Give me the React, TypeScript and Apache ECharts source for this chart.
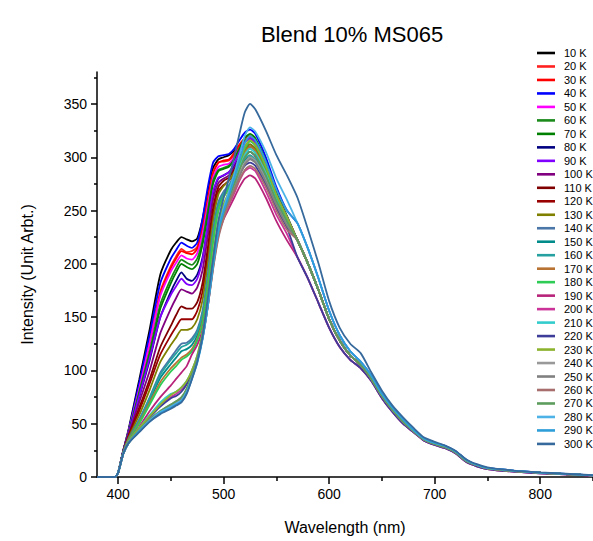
import React, { useEffect, useRef } from "react";
import * as echarts from "echarts";

// Wavelength grid (nm)
const headWavelengths = [380, 397, 400, 405, 410, 420, 430, 440, 450, 455, 460, 465, 470, 475, 480, 485, 490, 495, 500, 505, 510, 515, 520, 525, 530, 540, 550, 560];
const tailWavelengths = [570, 580, 590, 600, 610, 620, 630, 640, 650, 660, 670, 680, 690, 700, 710, 720, 730, 740, 750, 775, 800, 850];

const temperatures = ["10 K", "20 K", "30 K", "40 K", "50 K", "60 K", "70 K", "80 K", "90 K", "100 K", "110 K", "120 K", "130 K", "140 K", "150 K", "160 K", "170 K", "180 K", "190 K", "200 K", "210 K", "220 K", "230 K", "240 K", "250 K", "260 K", "270 K", "280 K", "290 K", "300 K"];

const lineColors = ["#000000", "#FF2020", "#FF0000", "#0000FF", "#FF00FF", "#1A8A1A", "#008000", "#000080", "#8000FF", "#800080", "#800000", "#990000", "#808000", "#4A76A8", "#008B8B", "#26A0A0", "#B87333", "#2ECC55", "#B8237A", "#CC3399", "#33CCCC", "#3D3D99", "#8CB32E", "#999999", "#808080", "#A86E6E", "#5C9C5C", "#4DB3E6", "#2E9ED9", "#36699C"];

// Intensity (a.u.) on headWavelengths
const h10 = [0, 0, 4, 25, 45, 91, 139, 190, 213, 220, 225, 223, 221, 224, 242, 268, 290, 298, 300, 302, 306, 311, 315, 317, 314, 292, 265, 244];
const h20 = [0, 0, 4, 25, 43, 84, 128, 174, 198, 207, 214, 211, 212, 216, 236, 262, 286, 295, 296, 297, 302, 310, 316, 318, 314, 292, 264, 243];
const h30 = [0, 0, 4, 25, 43, 83, 125, 172, 196, 205, 212, 210, 209, 214, 234, 260, 285, 295, 297, 298, 304, 312, 318, 320, 316, 294, 266, 244];
const h40 = [0, 0, 4, 25, 44, 88, 134, 182, 205, 213, 220, 217, 215, 220, 242, 272, 295, 301, 302, 303, 308, 316, 323, 326, 322, 300, 272, 250];
const h50 = [0, 0, 4, 25, 43, 83, 126, 170, 193, 201, 208, 205, 204, 210, 228, 255, 281, 291, 293, 294, 300, 308, 314, 317, 313, 291, 264, 243];
const h60 = [0, 0, 4, 25, 42, 80, 118, 162, 186, 196, 204, 201, 199, 205, 222, 250, 278, 288, 290, 292, 298, 308, 315, 318, 314, 292, 264, 243];
const h70 = [0, 0, 4, 25, 42, 78, 115, 158, 182, 192, 200, 197, 195, 200, 218, 246, 275, 287, 289, 291, 298, 308, 318, 322, 318, 296, 267, 245];
const h80 = [0, 0, 4, 25, 41, 75, 110, 150, 174, 184, 192, 186, 184, 190, 206, 236, 266, 280, 283, 286, 292, 300, 307, 310, 306, 285, 260, 240];
const h90 = [0, 0, 4, 25, 41, 76, 112, 150, 171, 179, 186, 181, 180, 186, 204, 236, 268, 281, 283, 286, 294, 305, 314, 318, 314, 292, 265, 244];
const h100 = [0, 0, 4, 24, 40, 70, 100, 135, 158, 168, 176, 174, 172, 178, 194, 226, 260, 276, 280, 283, 290, 300, 308, 312, 308, 288, 262, 242];
const h110 = [0, 0, 4, 24, 39, 65, 92, 122, 142, 152, 160, 158, 158, 164, 182, 215, 252, 272, 278, 281, 288, 296, 302, 305, 301, 282, 258, 238];
const h120 = [0, 0, 4, 24, 38, 62, 88, 115, 133, 141, 148, 148, 148, 156, 174, 208, 246, 268, 274, 278, 284, 292, 297, 300, 296, 278, 255, 236];
const h130 = [0, 0, 4, 24, 37, 58, 82, 108, 124, 131, 138, 138, 140, 148, 166, 200, 240, 265, 273, 278, 286, 296, 306, 312, 308, 288, 262, 242];
const h140 = [0, 0, 4, 24, 36, 54, 75, 98, 112, 119, 125, 126, 130, 138, 156, 190, 232, 258, 268, 274, 283, 294, 302, 305, 301, 282, 258, 238];
const h150 = [0, 0, 4, 23, 35, 52, 72, 93, 106, 112, 118, 120, 124, 133, 150, 184, 226, 254, 265, 272, 280, 290, 297, 300, 296, 278, 255, 236];
const h160 = [0, 0, 4, 23, 35, 53, 74, 96, 110, 116, 122, 124, 128, 136, 153, 187, 228, 255, 266, 272, 281, 291, 299, 302, 298, 280, 256, 237];
const h170 = [0, 0, 4, 23, 35, 51, 70, 89, 102, 107, 112, 115, 120, 130, 146, 180, 222, 250, 263, 270, 279, 292, 304, 310, 306, 286, 260, 240];
const h180 = [0, 0, 4, 23, 34, 50, 68, 86, 99, 104, 110, 113, 118, 128, 144, 178, 220, 250, 263, 271, 281, 294, 308, 315, 311, 290, 263, 242];
const h190 = [0, 0, 4, 22, 33, 47, 62, 75, 86, 92, 98, 104, 115, 124, 138, 165, 200, 228, 242, 252, 262, 272, 280, 283, 280, 262, 240, 222];
const h200 = [0, 0, 4, 22, 33, 46, 58, 68, 75, 78, 82, 88, 100, 112, 130, 160, 198, 228, 244, 255, 266, 278, 287, 290, 287, 268, 246, 228];
const h210 = [0, 0, 4, 22, 33, 46, 58, 70, 78, 80, 84, 90, 100, 114, 134, 165, 204, 236, 252, 264, 276, 290, 302, 308, 304, 285, 260, 240];
const h220 = [0, 0, 4, 22, 32, 45, 56, 66, 74, 76, 80, 87, 98, 112, 132, 162, 200, 232, 250, 262, 273, 284, 292, 295, 292, 274, 252, 234];
const h230 = [0, 0, 4, 22, 33, 46, 57, 68, 77, 80, 84, 90, 100, 114, 136, 168, 208, 240, 256, 268, 281, 296, 310, 316, 312, 292, 265, 244];
const h240 = [0, 0, 4, 22, 32, 44, 54, 62, 68, 71, 74, 82, 95, 110, 132, 162, 198, 228, 246, 260, 272, 284, 295, 300, 297, 279, 256, 237];
const h250 = [0, 0, 4, 22, 32, 43, 53, 61, 67, 70, 73, 81, 94, 109, 130, 160, 196, 226, 244, 258, 270, 282, 293, 298, 295, 277, 255, 236];
const h260 = [0, 0, 4, 22, 32, 43, 53, 61, 67, 70, 74, 82, 95, 110, 131, 160, 195, 224, 242, 256, 268, 279, 288, 292, 289, 272, 250, 232];
const h270 = [0, 0, 4, 22, 32, 44, 54, 62, 68, 71, 75, 83, 96, 111, 133, 163, 200, 230, 248, 262, 275, 288, 300, 305, 302, 283, 259, 240];
const h280 = [0, 0, 4, 22, 32, 43, 53, 61, 66, 69, 72, 80, 93, 108, 130, 162, 200, 232, 252, 268, 284, 302, 320, 328, 324, 305, 280, 260];
const h290 = [0, 0, 4, 22, 32, 43, 52, 60, 65, 68, 71, 79, 92, 107, 129, 160, 198, 230, 249, 264, 280, 297, 313, 320, 316, 296, 270, 250];
const h300 = [0, 0, 4, 22, 32, 42, 52, 59, 64, 67, 70, 78, 92, 108, 132, 168, 205, 240, 262, 280, 300, 322, 342, 350, 345, 325, 302, 283];

// Intensity (a.u.) on tailWavelengths
const tailCluster = [222, 200, 175, 148, 128, 114, 105, 92, 76, 63, 52, 43, 35, 31, 28, 23, 15, 11, 8, 5.5, 4, 1.5];
const tailLow = [206, 186, 163, 140, 122, 110, 102, 90, 74, 61, 50, 42, 34, 30, 27, 22, 14, 10, 7.5, 5, 3.5, 1.2];
const tailHigh = [238, 214, 186, 156, 133, 118, 108, 95, 78, 65, 54, 44, 36, 32, 29, 24, 16, 11.5, 8.5, 6, 4.2, 1.6];
const tail300 = [262, 232, 200, 165, 140, 125, 116, 98, 81, 67, 56, 46, 37, 33, 29.5, 24.5, 16.5, 12, 9, 6, 4.3, 1.7];

const seriesHeads = [h10, h20, h30, h40, h50, h60, h70, h80, h90, h100, h110, h120, h130, h140, h150, h160, h170, h180, h190, h200, h210, h220, h230, h240, h250, h260, h270, h280, h290, h300];
const seriesTails = [tailCluster, tailCluster, tailCluster, tailHigh, tailCluster, tailCluster, tailCluster, tailCluster, tailCluster, tailCluster, tailCluster, tailCluster, tailCluster, tailCluster, tailCluster, tailCluster, tailCluster, tailCluster, tailLow, tailLow, tailCluster, tailLow, tailCluster, tailCluster, tailCluster, tailCluster, tailCluster, tailHigh, tailHigh, tail300];

const xMajorTicks = [400, 500, 600, 700, 800];
const xMinorTicks = [450, 550, 650, 750, 850];
const yMajorTicks = [0, 50, 100, 150, 200, 250, 300, 350];
const yMinorTicks = [25, 75, 125, 175, 225, 275, 325, 375];

const FONT = "Liberation Sans, Arial, sans-serif";

export default function App() {
  const ref = useRef<HTMLDivElement>(null);
  useEffect(() => {
    if (!ref.current) return;
    const chart = echarts.init(ref.current, undefined, { renderer: "svg" });
    const series = temperatures.map((name, i) => {
      const data: number[][] = [];
      headWavelengths.forEach((w, j) => data.push([w, seriesHeads[i][j]]));
      tailWavelengths.forEach((w, j) => data.push([w, seriesTails[i][j]]));
      return {
        name,
        type: "line",
        data,
        symbol: "none",
        showSymbol: false,
        smooth: 0.2,
        xAxisIndex: 0,
        yAxisIndex: 0,
        lineStyle: { width: 1.8, color: lineColors[i] },
        itemStyle: { color: lineColors[i] },
        emphasis: { disabled: true },
      };
    });
    const axisBlack = { color: "#000", width: 1.5 };
    chart.setOption({
      animation: false,
      backgroundColor: "#fff",
      title: {
        text: "Blend 10% MS065",
        left: 347,
        textAlign: "center",
        top: 18,
        textStyle: { fontFamily: FONT, fontSize: 22, fontWeight: "normal", color: "#000" },
      },
      legend: {
        orient: "vertical",
        left: 537,
        top: 47.5,
        icon: "rect",
        itemWidth: 18,
        itemHeight: 2.6,
        itemGap: 2.48,
        padding: 0,
        data: temperatures,
        textStyle: { fontFamily: FONT, fontSize: 11, lineHeight: 11, color: "#000", padding: [0, 0, 0, 4] },
      },
      grid: { left: 97, top: 72, width: 500, height: 405, containLabel: false },
      xAxis: [
        {
          type: "value",
          min: 380,
          max: 850,
          position: "bottom",
          name: "Wavelength (nm)",
          nameLocation: "middle",
          nameGap: 42,
          nameTextStyle: { fontFamily: FONT, fontSize: 16, color: "#000" },
          axisLine: { show: true, onZero: false, lineStyle: axisBlack },
          axisTick: { show: true, customValues: xMajorTicks, length: 7, lineStyle: axisBlack },
          axisLabel: { customValues: xMajorTicks, fontFamily: FONT, fontSize: 14, color: "#000", margin: 10 },
          splitLine: { show: false },
        },
        {
          type: "value",
          min: 380,
          max: 850,
          position: "bottom",
          axisLine: { show: false, onZero: false },
          axisTick: { show: true, customValues: xMinorTicks, length: 4, lineStyle: axisBlack },
          axisLabel: { show: false },
          splitLine: { show: false },
        },
      ],
      yAxis: [
        {
          type: "value",
          min: 0,
          max: 380,
          position: "left",
          name: "Intensity (Unit Arbt.)",
          nameLocation: "middle",
          nameGap: 62,
          nameRotate: 90,
          nameTextStyle: { fontFamily: FONT, fontSize: 16, color: "#000" },
          axisLine: { show: true, onZero: false, lineStyle: axisBlack },
          axisTick: { show: true, customValues: yMajorTicks, length: 6, lineStyle: axisBlack },
          axisLabel: { customValues: yMajorTicks, fontFamily: FONT, fontSize: 14, color: "#000", margin: 10 },
          splitLine: { show: false },
        },
        {
          type: "value",
          min: 0,
          max: 380,
          position: "left",
          axisLine: { show: false, onZero: false },
          axisTick: { show: true, customValues: yMinorTicks, length: 3, lineStyle: axisBlack },
          axisLabel: { show: false },
          splitLine: { show: false },
        },
      ],
      series,
    });
    return () => chart.dispose();
  }, []);
  return (
    <div
      ref={ref}
      style={{ position: "absolute", left: 0, top: 0, width: 593, height: 541 }}
    />
  );
}
